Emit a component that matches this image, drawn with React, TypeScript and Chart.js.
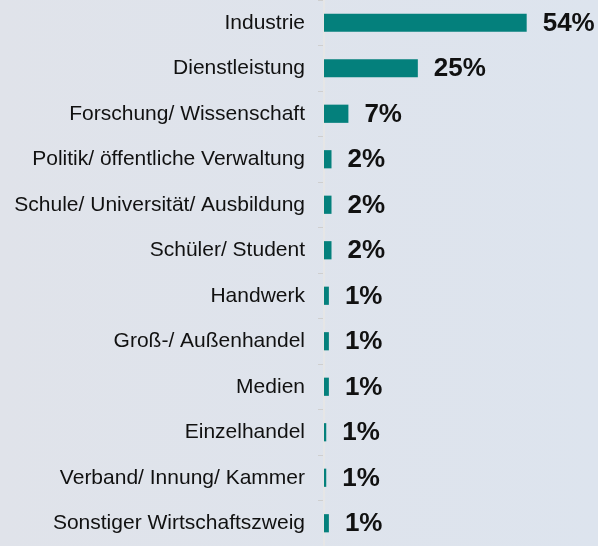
import React, { useEffect, useRef } from "react";
import { Chart, registerables } from "chart.js";

Chart.register(...registerables);

const categories = [
  "Industrie",
  "Dienstleistung",
  "Forschung/ Wissenschaft",
  "Politik/ öffentliche Verwaltung",
  "Schule/ Universität/ Ausbildung",
  "Schüler/ Student",
  "Handwerk",
  "Groß-/ Außenhandel",
  "Medien",
  "Einzelhandel",
  "Verband/ Innung/ Kammer",
  "Sonstiger Wirtschaftszweig",
];
const shares = [54, 25, 6.5, 2, 2, 2, 1.3, 1.3, 1.3, 0.6, 0.6, 1.3];
const shareLabels = ["54%", "25%", "7%", "2%", "2%", "2%", "1%", "1%", "1%", "1%", "1%", "1%"];

const valueLabelPlugin = {
  id: "valueLabels",
  afterDatasetsDraw(chart: any) {
    const ctx = chart.ctx;
    const meta = chart.getDatasetMeta(0);
    ctx.save();
    ctx.font = "bold 26px 'Liberation Sans', Arial, sans-serif";
    ctx.fillStyle = "#111111";
    ctx.textAlign = "left";
    ctx.textBaseline = "middle";
    meta.data.forEach((bar: any, i: number) => {
      ctx.fillText(shareLabels[i], bar.x + 16, bar.y + 1);
    });
    ctx.restore();
  },
};

export default function App() {
  const ref = useRef<HTMLCanvasElement | null>(null);
  useEffect(() => {
    document.body.style.margin = "0";
    const chart = new Chart(ref.current as HTMLCanvasElement, {
      type: "bar",
      data: {
        labels: categories,
        datasets: [
          {
            data: shares,
            backgroundColor: "#04807c",
            borderWidth: 0,
            barPercentage: 0.4,
            categoryPercentage: 1,
          },
        ],
      },
      options: {
        indexAxis: "y",
        animation: false,
        responsive: false,
        maintainAspectRatio: false,
        layout: { padding: 0 },
        plugins: {
          legend: { display: false },
          tooltip: { enabled: false },
        },
        scales: {
          x: {
            type: "linear",
            display: false,
            min: 0,
            max: 73,
          },
          y: {
            type: "category",
            afterFit(scale: any) {
              scale.width = 324;
              scale.paddingTop = 0;
              scale.paddingBottom = 0;
            },
            grid: {
              display: true,
              drawOnChartArea: false,
              drawTicks: true,
              tickLength: 6,
              offset: true,
              color: "#cfcfcf",
              lineWidth: 1,
            },
            border: { display: true, color: "#e6e6e6", width: 2 },
            ticks: {
              padding: 13,
              color: "#111111",
              font: { family: "'Liberation Sans', Arial, sans-serif", size: 21 },
            },
          },
        },
      },
      plugins: [valueLabelPlugin],
    });
    return () => chart.destroy();
  }, []);
  return (
    <div
      style={{
        width: 598,
        height: 546,
        background: "linear-gradient(90deg, #e0e3ea 0%, #dde4ee 100%)",
      }}
    >
      <canvas ref={ref} width={598} height={546} style={{ display: "block" }} />
    </div>
  );
}
